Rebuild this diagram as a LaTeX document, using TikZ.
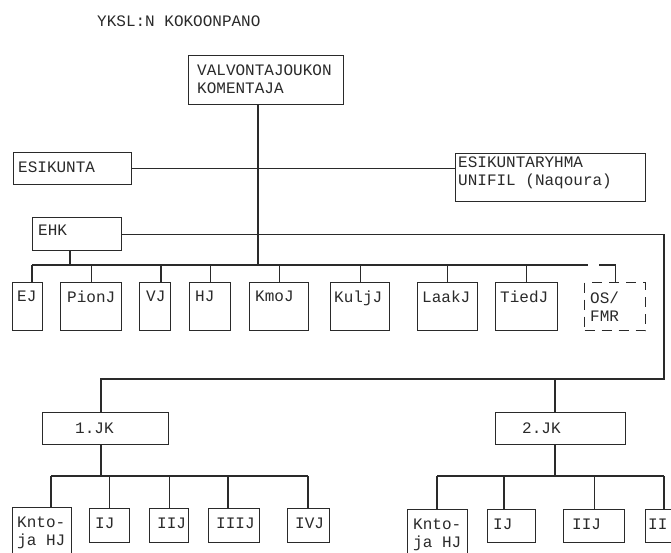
\documentclass[tikz,border=0pt]{standalone}
\usepackage{fontspec}
\newfontfamily\twfont{Liberation Mono}
\definecolor{inkc}{HTML}{2A2A2A}
\begin{document}
\begin{tikzpicture}[x=1pt,y=-1pt,
  ln/.style={draw=inkc, line width=1.1pt},
  bx/.style={draw=inkc, line width=1.1pt, anchor=north west, inner sep=0pt},
  lbl/.style={anchor=north west, inner sep=0pt, text=inkc, align=left,
     font=\twfont\fontsize{16}{18}\selectfont},
  txt/.style={inner sep=0pt, text=inkc, font=\twfont\fontsize{16}{18}\selectfont}
]
\useasboundingbox (0,0) rectangle (671,553);
\clip (0,0) rectangle (671,553);
\fill[white] (0,0) rectangle (671,553);

% title
\node[txt, anchor=north west] (title) at (97,16) {YKSL:N KOKOONPANO};

% top boxes
\node[bx, minimum width=155pt, minimum height=49pt,
  label={[lbl, xshift=9pt, yshift=-10pt]north west:{VALVONTAJOUKON\\KOMENTAJA}}] (vk) at (188,55) {};
\node[bx, minimum width=118pt, minimum height=32pt,
  label={[lbl, xshift=5pt, yshift=-10pt]north west:ESIKUNTA}] (esi) at (13,152) {};
\node[bx, minimum width=190pt, minimum height=48pt,
  label={[lbl, xshift=3pt, yshift=-4pt]north west:{ESIKUNTARYHMA\\UNIFIL (Naqoura)}}] (esr) at (455,153) {};
\node[bx, minimum width=89pt, minimum height=33pt,
  label={[lbl, xshift=6pt, yshift=-8pt]north west:EHK}] (ehk) at (32,217) {};

% row of units
\node[bx, minimum width=30pt, minimum height=48pt,
  label={[lbl, xshift=5pt, yshift=-9pt]north west:EJ}] (ej) at (12,282) {};
\node[bx, minimum width=61pt, minimum height=48pt,
  label={[lbl, xshift=7pt, yshift=-9pt]north west:PionJ}] (pion) at (60,282) {};
\node[bx, minimum width=31pt, minimum height=48pt,
  label={[lbl, xshift=7pt, yshift=-9pt]north west:VJ}] (vj) at (139,282) {};
\node[bx, minimum width=41pt, minimum height=48pt,
  label={[lbl, xshift=6pt, yshift=-9pt]north west:HJ}] (hj) at (189,282) {};
\node[bx, minimum width=59pt, minimum height=48pt,
  label={[lbl, xshift=6pt, yshift=-9pt]north west:KmoJ}] (kmo) at (249,282) {};
\node[bx, minimum width=59pt, minimum height=48pt,
  label={[lbl, xshift=4pt, yshift=-9pt]north west:KuljJ}] (kulj) at (330,282) {};
\node[bx, minimum width=60pt, minimum height=48pt,
  label={[lbl, xshift=5pt, yshift=-9pt]north west:LaakJ}] (laak) at (417,282) {};
\node[bx, minimum width=62pt, minimum height=48pt,
  label={[lbl, xshift=5pt, yshift=-9pt]north west:TiedJ}] (tied) at (495,282) {};
\node[bx, dash pattern=on 10pt off 7pt, minimum width=61pt, minimum height=48pt,
  label={[lbl, xshift=6pt, yshift=-10pt]north west:{OS/\\FMR}}] (os) at (584,282) {};

% companies
\node[bx, minimum width=126pt, minimum height=32pt,
  label={[lbl, xshift=33pt, yshift=-11pt]north west:1.JK}] (jk1) at (42,412) {};
\node[bx, minimum width=130pt, minimum height=32pt,
  label={[lbl, xshift=27pt, yshift=-11pt]north west:2.JK}] (jk2) at (495,412) {};

% platoons of 1.JK
\node[bx, minimum width=59pt, minimum height=60pt,
  label={[lbl, xshift=5pt, yshift=-10pt]north west:{Knto-\\ja HJ}}] (kh1) at (12,507) {};
\node[bx, minimum width=40pt, minimum height=34pt,
  label={[lbl, xshift=6pt, yshift=-10pt]north west:IJ}] (ij1) at (89,508) {};
\node[bx, minimum width=39pt, minimum height=34pt,
  label={[lbl, xshift=8pt, yshift=-10pt]north west:IIJ}] (iij1) at (149,508) {};
\node[bx, minimum width=51pt, minimum height=34pt,
  label={[lbl, xshift=8pt, yshift=-10pt]north west:IIIJ}] (iiij1) at (208,508) {};
\node[bx, minimum width=42pt, minimum height=34pt,
  label={[lbl, xshift=8pt, yshift=-10pt]north west:IVJ}] (ivj1) at (287,508) {};

% platoons of 2.JK
\node[bx, minimum width=60pt, minimum height=60pt,
  label={[lbl, xshift=6pt, yshift=-10pt]north west:{Knto-\\ja HJ}}] (kh2) at (407,509) {};
\node[bx, minimum width=48pt, minimum height=33pt,
  label={[lbl, xshift=6pt, yshift=-10pt]north west:IJ}] (ij2) at (487,509) {};
\node[bx, minimum width=61pt, minimum height=33pt,
  label={[lbl, xshift=9pt, yshift=-10pt]north west:IIJ}] (iij2) at (563,509) {};
\node[bx, minimum width=40pt, minimum height=33pt,
  label={[lbl, xshift=3pt, yshift=-10pt]north west:II}] (ii2) at (645,509) {};

% junction coordinates
\coordinate (j0) at (258,265);
\coordinate (b1) at (32,265);
\coordinate (b2) at (588,265);
\coordinate (e1) at (70,265);
\coordinate (v1) at (161,265);
\coordinate (rc) at (664,379);
\coordinate (k1) at (101,476);
\coordinate (k2) at (555,476);
\coordinate (c1) at (51,476);
\coordinate (c2) at (308,476);
\coordinate (c3) at (228,476);
\coordinate (d1) at (437,476);
\coordinate (d2) at (664,476);
\coordinate (d3) at (504,476);

% connectors
\draw[ln] (j0 |- vk.south) -- (j0);
\draw[ln] (esi.east) -- (esi.east -| esr.west);
\draw[ln] (e1 |- ehk.south) -- (e1);
\draw[ln] (b1) -- (b2);
\draw[ln] (b1) -- (b1 |- ej.north);
\draw[ln] (v1) -- (v1 |- vj.north);
\foreach \n in {pion,hj,kmo,kulj,laak,tied}
  \draw[ln] (\n.north) -- (\n.north |- b1);
\draw[ln, dash pattern=on 0pt off 11pt on 60pt] (b2) -- (b2 -| os.north) -- (os.north);

\draw[ln] (ehk.east) -| (rc) -- (k1 |- rc) -- (k1 |- jk1.north);
\draw[ln] (k2 |- rc) -- (k2 |- jk2.north);

\draw[ln] (k1 |- jk1.south) -- (k1);
\draw[ln] (c1) -- (c2);
\draw[ln] (c1) -- (c1 |- kh1.north);
\draw[ln] (ij1.north) -- (ij1.north |- c1);
\draw[ln] (iij1.north) -- (iij1.north |- c1);
\draw[ln] (c3) -- (c3 |- iiij1.north);
\draw[ln] (c2) -- (c2 |- ivj1.north);

\draw[ln] (k2 |- jk2.south) -- (k2);
\draw[ln] (d1) -- (d2);
\draw[ln] (d1) -- (d1 |- kh2.north);
\draw[ln] (d3) -- (d3 |- ij2.north);
\draw[ln] (iij2.north) -- (iij2.north |- d1);
\draw[ln] (d2) -- (d2 |- ii2.north);
\end{tikzpicture}
\end{document}
